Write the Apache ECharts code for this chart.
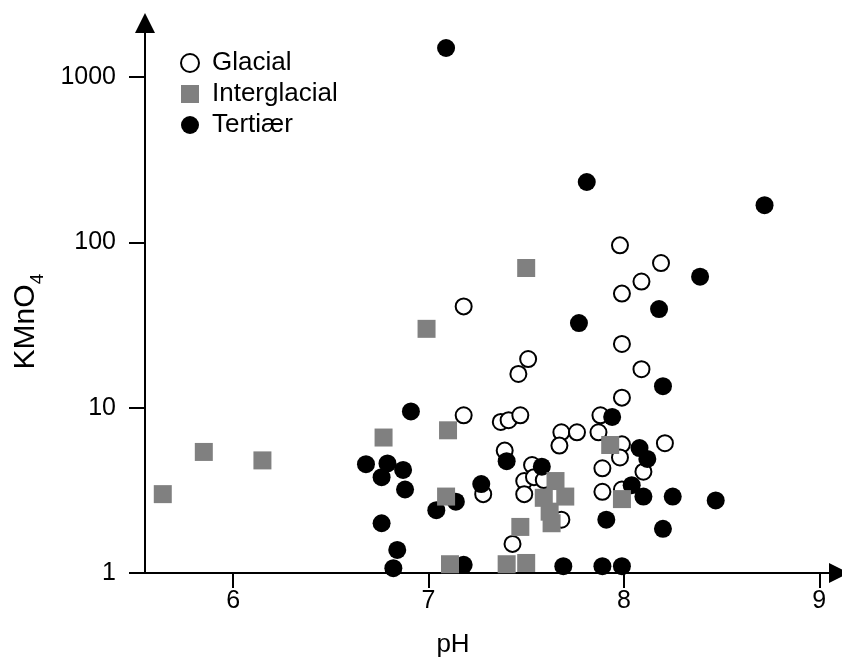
<!DOCTYPE html>
<html>
<head>
<meta charset="utf-8">
<script src="https://cdn.jsdelivr.net/npm/echarts@6/dist/echarts.min.js"></script>
<style>
  html, body { margin: 0; padding: 0; background: #fff; }
  #main { width: 842px; height: 661px; }
</style>
</head>
<body>
<div id="main"></div>
<script>
// pH / KMnO4 values
const glacialPH = [7.98, 8.19, 8.09, 7.99, 7.18, 7.99, 8.09, 7.51, 7.46, 7.99, 7.18, 7.37, 7.41, 7.47, 7.88, 7.68, 7.76, 7.87, 7.67, 7.99, 8.21, 7.39, 7.98, 7.53, 8.10, 7.89, 7.49, 7.54, 7.59, 7.28, 7.89, 7.99, 7.49, 7.68, 7.43];
const glacialKMnO4 = [96, 75, 58, 49, 41, 24.3, 17.1, 19.7, 16.0, 11.5, 9.0, 8.2, 8.4, 9.0, 9.0, 7.1, 7.1, 7.1, 5.9, 6.0, 6.1, 5.5, 5.0, 4.5, 4.1, 4.3, 3.6, 3.8, 3.65, 3.0, 3.1, 3.2, 3.0, 2.1, 1.5];

const interPH = [7.50, 6.99, 6.77, 7.10, 5.85, 6.15, 5.64, 7.09, 7.93, 7.65, 7.99, 7.59, 7.70, 7.62, 7.63, 7.47, 7.11, 7.40, 7.50];
const interKMnO4 = [70, 30, 6.6, 7.3, 5.4, 4.8, 3.0, 2.9, 5.95, 3.6, 2.8, 2.85, 2.9, 2.35, 2.0, 1.9, 1.13, 1.13, 1.15];

const tertPH = [7.09, 7.81, 8.72, 8.39, 7.77, 8.18, 8.20, 6.91, 7.94, 8.08, 8.12, 7.40, 7.58, 7.27, 8.04, 8.10, 8.25, 8.47, 7.14, 7.04, 7.91, 8.20, 7.18, 7.69, 7.89, 7.99, 6.68, 6.79, 6.76, 6.87, 6.88, 6.76, 6.84, 6.82];
const tertKMnO4 = [1500, 232, 168, 62, 32.5, 39.5, 13.5, 9.5, 8.8, 5.7, 4.9, 4.75, 4.4, 3.45, 3.4, 2.9, 2.9, 2.75, 2.7, 2.4, 2.1, 1.85, 1.12, 1.1, 1.1, 1.1, 4.55, 4.6, 3.8, 4.2, 3.2, 2.0, 1.38, 1.07];

const xTicks = [6, 7, 8, 9];
const yTicks = [1, 10, 100, 1000];

const zip = (xs, ys) => xs.map((x, i) => [x, ys[i]]);

const font = "Liberation Sans, Arial, sans-serif";

let chart = echarts.init(document.getElementById("main"));
chart.setOption({
  animation: false,
  grid: { left: 145, right: 3, top: 23, bottom: 88 },
  legend: {
    orient: "vertical",
    left: 180,
    top: 50,
    padding: 0,
    itemWidth: 18,
    itemHeight: 18,
    itemGap: 5,
    data: ["Glacial", "Interglacial", "Tertiær"],
    textStyle: { fontSize: 26, fontFamily: font, color: "#000", padding: [0, 0, 0, 8] }
  },
  xAxis: {
    type: "value",
    min: 5.549,
    max: 9.101,
    splitLine: { show: false },
    axisLine: {
      lineStyle: { color: "#000", width: 2 },
      symbol: ["none", "triangle"],
      symbolSize: [20, 20]
    },
    axisTick: { customValues: xTicks, length: 15, lineStyle: { color: "#000", width: 2 } },
    axisLabel: { customValues: xTicks, margin: 16, fontSize: 25, fontFamily: font, color: "#000" }
  },
  yAxis: {
    type: "log",
    logBase: 10,
    min: 1,
    max: 2125,
    splitLine: { show: false },
    axisLine: {
      lineStyle: { color: "#000", width: 2 },
      symbol: ["none", "triangle"],
      symbolSize: [20, 20]
    },
    axisTick: { customValues: yTicks, length: 16, lineStyle: { color: "#000", width: 2 } },
    axisLabel: {
      customValues: yTicks,
      margin: 29,
      fontSize: 25,
      fontFamily: font,
      color: "#000",
      formatter: (v) => String(Math.round(v))
    }
  },
  graphic: [
    {
      type: "text",
      x: 453,
      y: 645,
      style: { text: "pH", fontSize: 26, fontFamily: font, fill: "#000", align: "center", verticalAlign: "middle" }
    },
    // y axis title, with the 4 set as a subscript
    {
      type: "text",
      x: 26,
      y: 327,
      rotation: Math.PI / 2,
      style: { text: "KMnO", fontSize: 30, fontFamily: font, fill: "#000", align: "center", verticalAlign: "middle" }
    },
    {
      type: "text",
      x: 38,
      y: 279,
      rotation: Math.PI / 2,
      style: { text: "4", fontSize: 19, fontFamily: font, fill: "#000", align: "center", verticalAlign: "middle" }
    }
  ],
  series: [
    {
      name: "Glacial",
      type: "scatter",
      symbol: "circle",
      symbolSize: 16,
      itemStyle: { color: "#fff", borderColor: "#000", borderWidth: 2, opacity: 1 },
      data: zip(glacialPH, glacialKMnO4)
    },
    {
      name: "Tertiær",
      type: "scatter",
      symbol: "circle",
      symbolSize: 18,
      itemStyle: { color: "#000", opacity: 1 },
      data: zip(tertPH, tertKMnO4)
    },
    {
      name: "Interglacial",
      type: "scatter",
      symbol: "rect",
      symbolSize: 18,
      itemStyle: { color: "#808080", opacity: 1 },
      data: zip(interPH, interKMnO4)
    }
  ]
});
</script>
</body>
</html>
